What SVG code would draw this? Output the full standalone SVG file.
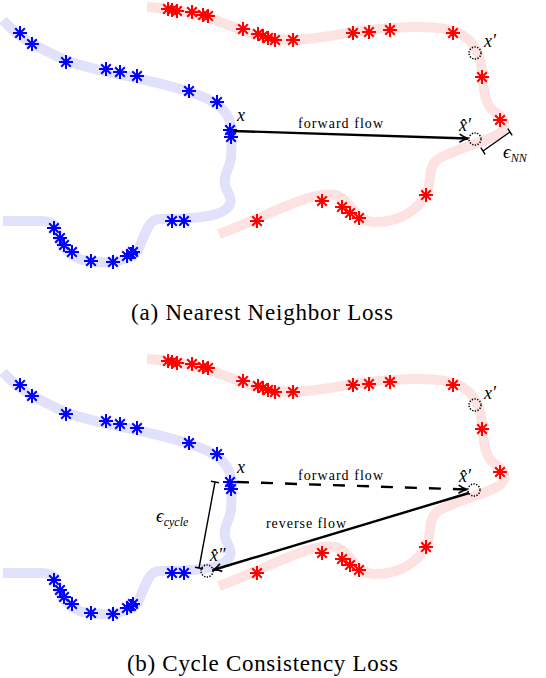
<svg xmlns="http://www.w3.org/2000/svg" xmlns:xlink="http://www.w3.org/1999/xlink" width="546" height="678" viewBox="0 0 546 678">
<style>
.bc{fill:none;stroke:#e1e1fb;stroke-width:10}
.rc{fill:none;stroke:#fde2e2;stroke-width:10}
.bs{stroke:#0000ff;stroke-width:2;fill:none}
.rs{stroke:#ff0000;stroke-width:2;fill:none}
.ci{fill:#fff;fill-opacity:0;stroke:#000;stroke-width:1.5;stroke-dasharray:1.3,1.4}
.ar{fill:none;stroke:#000;stroke-width:2.4}
.br{fill:none;stroke:#000;stroke-width:1.4}
.m{font-style:italic;fill:#000}
.t{fill:#000}
</style>
<defs>
<path id="st" d="M-7,0H7M0,-7V7M-4.8,-4.8L4.8,4.8M-4.8,4.8L4.8,-4.8"/>
<marker id="ah" viewBox="0 0 10 10" refX="9" refY="5" markerWidth="10" markerHeight="10" markerUnits="userSpaceOnUse" orient="auto">
<path d="M0.5,1 Q5,4.2 9.5,5 Q5,5.8 0.5,9" fill="none" stroke="#000" stroke-width="1.6"/>
</marker>
<g id="scene">
<path class="bc" d="M3,20 C20,40 40,48 65,60 C95,72 140,76 190,92 C215,100 232,110 232,135 L231,158 C229,170 223,175 225,185 C228,195 236,202 225,210 C215,217 195,219 160,219 C148,219 145,235 138,250 C130,260 115,263 95,262 C75,261 60,250 57,232 C55,223 50,221 40,221 L3,221"/>
<path class="rc" d="M147,7 C170,8 190,12 210,18 C235,27 250,35 275,39 C300,42 330,36 360,31 C390,27 430,25 450,30 C470,35 480,50 482,70 C484,95 485,105 495,112 C505,118 508,126 500,133 C490,141 450,150 437,160 C428,168 431,180 428,190 C420,210 400,222 375,222 C355,222 350,198 335,195 C310,190 260,220 219,234"/>
<g class="bs">
<use href="#st" x="20" y="33"/><use href="#st" x="32" y="44"/><use href="#st" x="66" y="62"/><use href="#st" x="106" y="69"/><use href="#st" x="120" y="72"/><use href="#st" x="137" y="76"/><use href="#st" x="189" y="91"/><use href="#st" x="217" y="102"/><use href="#st" x="230" y="130"/><use href="#st" x="231" y="137"/>
<use href="#st" x="54" y="228"/><use href="#st" x="60" y="238"/><use href="#st" x="64" y="245"/><use href="#st" x="72" y="252"/><use href="#st" x="91" y="261"/><use href="#st" x="113" y="262"/><use href="#st" x="127" y="256"/><use href="#st" x="131" y="254"/><use href="#st" x="133" y="252"/><use href="#st" x="172" y="221"/><use href="#st" x="184" y="221"/>
</g>
<g class="rs">
<use href="#st" x="168" y="9"/><use href="#st" x="172" y="10"/><use href="#st" x="177" y="11"/><use href="#st" x="192" y="12"/><use href="#st" x="203" y="15"/><use href="#st" x="208" y="16"/><use href="#st" x="243" y="29"/><use href="#st" x="258" y="34"/><use href="#st" x="263" y="36"/><use href="#st" x="268" y="38"/><use href="#st" x="275" y="40"/><use href="#st" x="293" y="40"/><use href="#st" x="353" y="33"/><use href="#st" x="369" y="32"/><use href="#st" x="390" y="30"/><use href="#st" x="453" y="33"/><use href="#st" x="482" y="77"/><use href="#st" x="500" y="120"/>
<use href="#st" x="257" y="221"/><use href="#st" x="322" y="201"/><use href="#st" x="342" y="207"/><use href="#st" x="350" y="213"/><use href="#st" x="359" y="218"/><use href="#st" x="426" y="195"/>
</g>
</g>
</defs>

<g id="panel-a">
<use href="#scene"/>
</g>
<g id="panel-b">
<use href="#scene" transform="translate(0,352)"/>
</g>

<g id="connectors">
<line class="ar" x1="233" y1="131" x2="468" y2="138.5" marker-end="url(#ah)"/>
<line class="ar" x1="237" y1="482" x2="467" y2="489.5" stroke-dasharray="12,12" marker-end="url(#ah)"/>
<line class="ar" x1="469" y1="493" x2="213" y2="570" marker-end="url(#ah)"/>
</g>

<g id="eps-nn">
<path class="br" d="M483,151 L510,132 M480.8,147.7 L485.2,154.3 M507.8,128.7 L512.2,135.3"/>
<text class="m" font-family="'Liberation Serif', 'DejaVu Serif', serif" x="503" y="158" font-size="19">ϵ<tspan font-size="12" dy="4">NN</tspan></text>
</g>
<g id="eps-cycle">
<path class="br" d="M215,482 L199,568 M211,481.3 L219,482.7 M195,567.3 L203,568.7"/>
<text class="m" font-family="'Liberation Serif', 'DejaVu Serif', serif" x="156" y="522" font-size="19">ϵ<tspan font-size="12" dy="4">cycle</tspan></text>
</g>

<g id="points-a" font-family="'Liberation Serif', 'DejaVu Serif', serif">
<circle class="ci" cx="475" cy="53" r="6"/>
<circle class="ci" cx="475" cy="139" r="6"/>
<text class="m" x="237" y="121" font-size="18">x</text>
<text class="m" x="484" y="47" font-size="18">x′</text>
<text class="m" x="459" y="131" font-size="18">x̂′</text>
</g>
<g id="points-b" font-family="'Liberation Serif', 'DejaVu Serif', serif">
<circle class="ci" cx="475" cy="405" r="6"/>
<circle class="ci" cx="474" cy="490" r="6"/>
<circle class="ci" cx="207" cy="571" r="6"/>
<text class="m" x="237" y="473" font-size="18">x</text>
<text class="m" x="484" y="399" font-size="18">x′</text>
<text class="m" x="459" y="482" font-size="18">x̂′</text>
<text class="m" x="210" y="561" font-size="18">x̂″</text>
</g>

<g id="labels" font-family="'Liberation Serif', 'DejaVu Serif', serif">
<text class="t" x="298" y="128" font-size="14" textLength="85" lengthAdjust="spacing">forward flow</text>
<text class="t" x="298" y="480" font-size="14" textLength="85" lengthAdjust="spacing">forward flow</text>
<text class="t" x="266" y="528" font-size="14" textLength="80" lengthAdjust="spacing">reverse flow</text>
<text class="t" x="131" y="320" font-size="23" textLength="262" lengthAdjust="spacing">(a) Nearest Neighbor Loss</text>
<text class="t" x="127" y="671" font-size="23" textLength="271" lengthAdjust="spacing">(b) Cycle Consistency Loss</text>
</g>
</svg>
